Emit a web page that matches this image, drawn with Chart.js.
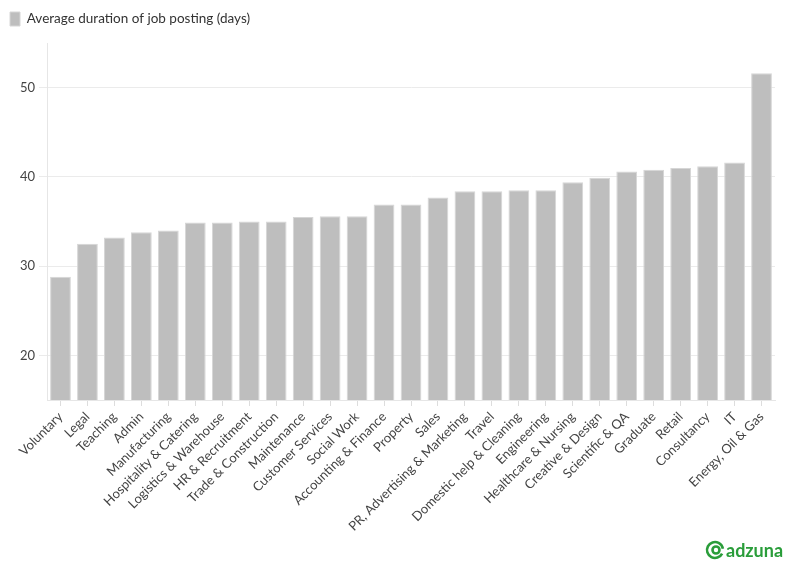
<!DOCTYPE html>
<html>
<head>
<meta charset="utf-8">
<script src="https://cdn.jsdelivr.net/npm/chart.js@4"></script>
<style>
  html, body { margin: 0; padding: 0; background: #fff; }
  #wrap { width: 796px; height: 575px; position: relative; }
</style>
</head>
<body>
<div id="wrap"><canvas id="myChart" width="796" height="575"></canvas></div>
<script>
// categories and values
const categories = [
  "Voluntary", "Legal", "Teaching", "Admin", "Manufacturing",
  "Hospitality & Catering", "Logistics & Warehouse", "HR & Recruitment",
  "Trade & Construction", "Maintenance", "Customer Services", "Social Work",
  "Accounting & Finance", "Property", "Sales", "PR, Advertising & Marketing",
  "Travel", "Domestic help & Cleaning", "Engineering", "Healthcare & Nursing",
  "Creative & Design", "Scientific & QA", "Graduate", "Retail",
  "Consultancy", "IT", "Energy, Oil & Gas"
];
const avgDuration = [
  28.8, 32.5, 33.2, 33.8, 34.0,
  34.9, 34.9, 35.0,
  35.0, 35.5, 35.6, 35.6,
  36.9, 36.9, 37.7, 38.4,
  38.4, 38.5, 38.5, 39.4,
  39.9, 40.6, 40.8, 41.0,
  41.2, 41.6, 51.6
];
const yTicks = [20, 30, 40, 50];
const seriesLabel = "Average duration of job posting (days)";

const FONT = "Lato";

// give the legend a bit more room underneath, so the plot starts lower
const legendSpacer = {
  id: "legendSpacer",
  beforeLayout(chart) {
    const lg = chart.legend;
    if (!lg || lg._spaced) return;
    const origFit = lg.fit.bind(lg);
    lg.fit = function () { origFit(); this.height += 7; };
    lg._spaced = true;
  }
};

// little logo in the bottom right corner
const logoPlugin = {
  id: "logo",
  afterDraw(chart) {
    const ctx = chart.ctx;
    ctx.save();
    ctx.strokeStyle = "#2a9d3a";
    ctx.fillStyle = "#2a9d3a";
    ctx.lineWidth = 2.6;
    ctx.beginPath();
    ctx.arc(715, 550, 8, Math.PI * 0.15, Math.PI * 1.95);
    ctx.stroke();
    ctx.beginPath();
    ctx.arc(716, 550, 3.5, 0, Math.PI * 2);
    ctx.stroke();
    ctx.font = "bold 18px " + FONT;
    ctx.textBaseline = "alphabetic";
    ctx.fillText("adzuna", 726, 557);
    ctx.restore();
  }
};

new Chart(document.getElementById("myChart"), {
  type: "bar",
  data: {
    labels: categories,
    datasets: [{
      label: seriesLabel,
      data: avgDuration,
      backgroundColor: "#bebebe",
      borderColor: "#d6d6d6",
      borderWidth: 1,
      categoryPercentage: 1.0,
      barPercentage: 0.77
    }]
  },
  options: {
    responsive: false,
    animation: false,
    layout: { padding: { left: 0, right: 21, top: 2, bottom: 0 } },
    plugins: {
      legend: {
        align: "start",
        labels: {
          font: { family: FONT, size: 13.5 },
          color: "#333",
          boxWidth: 10,
          boxHeight: 14,
          padding: 10
        }
      },
      tooltip: { enabled: false }
    },
    scales: {
      x: {
        grid: {
          offset: false,
          drawOnChartArea: false,
          drawTicks: true,
          tickLength: 6,
          color: "#dddddd"
        },
        border: { color: "#e6e6e6" },
        ticks: {
          autoSkip: false,
          maxRotation: 45,
          minRotation: 45,
          color: "#444",
          font: { family: FONT, size: 13 }
        },
        afterFit(scale) { scale.height = 175; }
      },
      y: {
        min: 15,
        max: 55,
        afterBuildTicks(scale) {
          scale.ticks = yTicks.map(v => ({ value: v }));
        },
        grid: {
          color: "#ebebeb",
          tickLength: 8
        },
        border: { color: "#e6e6e6" },
        ticks: {
          color: "#444",
          padding: 4,
          font: { family: FONT, size: 13 }
        },
        afterFit(scale) { scale.width = 47; }
      }
    }
  },
  plugins: [legendSpacer, logoPlugin]
});
</script>
</body>
</html>
